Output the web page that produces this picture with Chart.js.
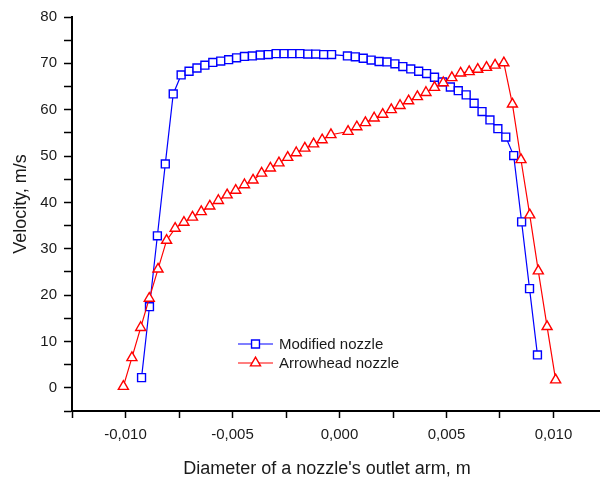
<!DOCTYPE html>
<html>
<head>
<meta charset="utf-8">
<script src="https://cdn.jsdelivr.net/npm/chart.js@4/dist/chart.umd.min.js"></script>
<style>
  html, body { margin: 0; padding: 0; background: #fff; overflow: hidden; }
  #wrap { width: 600px; height: 484px; overflow: hidden; }
</style>
</head>
<body>
<div id="wrap"><canvas id="chart" width="615" height="484"></canvas></div>
<script>
// Modified nozzle (blue squares)
const modifiedX = [
  -0.00925, -0.00888, -0.00851, -0.00814, -0.00777, -0.00740, -0.00703, -0.00666, -0.00629,
  -0.00592, -0.00555, -0.00518, -0.00481, -0.00444, -0.00407, -0.00370, -0.00333, -0.00296,
  -0.00259, -0.00222, -0.00185, -0.00148, -0.00111, -0.00074, -0.00037,
  0.00037, 0.00074, 0.00111, 0.00148, 0.00185, 0.00222, 0.00259, 0.00296, 0.00333,
  0.00370, 0.00407, 0.00444, 0.00481, 0.00518, 0.00555, 0.00592, 0.00629, 0.00666,
  0.00703, 0.00740, 0.00777, 0.00814, 0.00851, 0.00888, 0.00925
];
const modifiedY = [
  2.2, 17.5, 32.8, 48.3, 63.4, 67.5, 68.3, 69.0, 69.6, 70.2, 70.5, 70.8, 71.2,
  71.5, 71.6, 71.8, 71.9, 72.1, 72.1, 72.1, 72.1, 72.0, 72.0, 71.9, 71.9,
  71.6, 71.4, 71.1, 70.7, 70.4, 70.3, 69.9, 69.3, 68.8, 68.3, 67.8, 67.0, 66.0,
  64.9, 64.1, 63.2, 61.4, 59.6, 57.8, 55.9, 54.1, 50.1, 35.8, 21.4, 7.1
];

// Arrowhead nozzle (red triangles)
const arrowX = [
  -0.0101, -0.0097, -0.00929, -0.00889, -0.00848, -0.00808, -0.00768, -0.00727, -0.00687,
  -0.00646, -0.00606, -0.00566, -0.00525, -0.00485, -0.00444, -0.00404, -0.00364, -0.00323,
  -0.00283, -0.00242, -0.00202, -0.00162, -0.00121, -0.00081, -0.0004,
  0.0004, 0.00081, 0.00121, 0.00162, 0.00202, 0.00242, 0.00283, 0.00323, 0.00364,
  0.00404, 0.00444, 0.00485, 0.00525, 0.00566, 0.00606, 0.00646, 0.00687, 0.00727,
  0.00768, 0.00808, 0.00848, 0.00889, 0.00929, 0.0097, 0.0101
];
const arrowY = [
  0.3, 6.5, 13.0, 19.3, 25.6, 31.8, 34.4, 35.7, 36.8, 38.0, 39.2, 40.4, 41.6,
  42.6, 43.8, 44.8, 46.3, 47.4, 48.5, 49.7, 50.7, 51.7, 52.6, 53.5, 54.6,
  55.3, 56.3, 57.2, 58.2, 59.0, 60.0, 60.9, 61.9, 62.8, 63.7, 64.8, 65.8, 66.9,
  67.9, 68.2, 68.7, 69.1, 69.6, 70.1, 61.2, 49.2, 37.3, 25.2, 13.2, 1.7
];

const seriesNames = ['Modified nozzle', 'Arrowhead nozzle'];
const xTitle = "Diameter of a nozzle's outlet arm, m";
const yTitle = 'Velocity, m/s';

const FONT = '"Liberation Sans", Arial, sans-serif';
const TEXT = '#1a1a1a';

const toPoints = (xs, ys) => xs.map((x, i) => ({ x: x, y: ys[i] }));

// legend inside the plot + axis titles (original has them a bit off-centre)
const extras = {
  id: 'extras',
  afterDraw(chart) {
    const ctx = chart.ctx;
    const rows = [
      { ds: chart.data.datasets[0], y: 344 },
      { ds: chart.data.datasets[1], y: 363 }
    ];
    ctx.save();
    rows.forEach(r => {
      ctx.strokeStyle = r.ds.borderColor;
      ctx.lineWidth = 1.2;
      ctx.beginPath();
      ctx.moveTo(238, r.y);
      ctx.lineTo(273, r.y);
      ctx.stroke();
      ctx.fillStyle = '#fff';
      ctx.strokeStyle = r.ds.pointBorderColor;
      ctx.lineWidth = r.ds.pointBorderWidth;
      Chart.helpers.drawPoint(ctx, {
        pointStyle: r.ds.pointStyle,
        radius: r.ds.pointRadius,
        rotation: 0,
        borderWidth: r.ds.pointBorderWidth
      }, 255.5, r.y);
      ctx.fillStyle = TEXT;
      ctx.font = '15px ' + FONT;
      ctx.textAlign = 'left';
      ctx.textBaseline = 'middle';
      ctx.fillText(r.ds.label, 279, r.y + 1);
    });

    ctx.fillStyle = TEXT;
    ctx.font = '18px ' + FONT;
    ctx.textAlign = 'center';
    ctx.textBaseline = 'middle';
    ctx.fillText(xTitle, 327, 469);

    ctx.translate(21, 204);
    ctx.rotate(-Math.PI / 2);
    ctx.fillText(yTitle, 0, 0);
    ctx.restore();
  }
};

new Chart(document.getElementById('chart'), {
  type: 'scatter',
  data: {
    datasets: [
      {
        label: seriesNames[0],
        data: toPoints(modifiedX, modifiedY),
        showLine: true,
        borderColor: '#0000ff',
        borderWidth: 1.2,
        pointStyle: 'rect',
        pointRadius: 5.6,
        pointBorderWidth: 1.4,
        pointBorderColor: '#0000ff',
        pointBackgroundColor: '#ffffff',
        order: 1
      },
      {
        label: seriesNames[1],
        data: toPoints(arrowX, arrowY),
        showLine: true,
        borderColor: '#ff0000',
        borderWidth: 1.2,
        pointStyle: 'triangle',
        pointRadius: 5.8,
        pointBorderWidth: 1.4,
        pointBorderColor: '#ff0000',
        pointBackgroundColor: '#ffffff',
        order: 0
      }
    ]
  },
  options: {
    responsive: false,
    animation: false,
    events: [],
    layout: { padding: { top: 17, right: 0, left: 0, bottom: 0 } },
    plugins: {
      legend: { display: false },
      tooltip: { enabled: false }
    },
    scales: {
      x: {
        type: 'linear',
        min: -0.0125,
        max: 0.0125,
        afterFit(scale) { scale.height = 73; },
        border: { display: true, color: '#000', width: 2 },
        grid: { drawOnChartArea: false, drawTicks: true, tickLength: 7, tickColor: '#000', tickWidth: 1.5 },
        ticks: {
          stepSize: 0.0025,
          autoSkip: false,
          maxRotation: 0,
          padding: 8,
          color: TEXT,
          font: { family: FONT, size: 15 },
          callback(v) {
            const r = v / 0.005;
            if (Math.abs(r - Math.round(r)) > 1e-6) return '';
            let val = Math.round(r) * 0.005;
            if (Math.abs(val) < 1e-9) val = 0;
            return val.toFixed(3).replace('.', ',');
          }
        },
        title: { display: false }
      },
      y: {
        type: 'linear',
        min: -5,
        max: 80,
        afterFit(scale) { scale.width = 72; },
        border: { display: true, color: '#000', width: 2 },
        grid: { drawOnChartArea: false, drawTicks: true, tickLength: 8, tickColor: '#000', tickWidth: 1.5 },
        ticks: {
          stepSize: 5,
          autoSkip: false,
          padding: 7,
          color: TEXT,
          font: { family: FONT, size: 15 },
          callback(v) {
            const n = Math.round(v);
            return (n % 10 === 0 && n >= 0) ? String(n) : '';
          }
        },
        title: { display: false }
      }
    }
  },
  plugins: [extras]
});
</script>
</body>
</html>
